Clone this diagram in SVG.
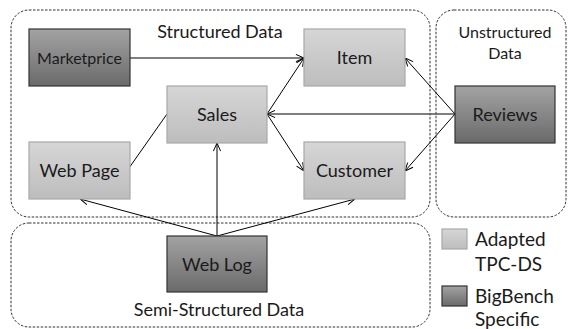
<svg xmlns="http://www.w3.org/2000/svg" width="571" height="329" viewBox="0 0 571 329">
<defs>
<linearGradient id="gl" x1="0" y1="0" x2="0" y2="1"><stop offset="0" stop-color="#d6d6d6"/><stop offset="1" stop-color="#bdbdbd"/></linearGradient>
<linearGradient id="gd" x1="0" y1="0" x2="0" y2="1"><stop offset="0" stop-color="#a3a3a3"/><stop offset="1" stop-color="#6a6a6a"/></linearGradient>
<marker id="ah" viewBox="0 0 10 10" refX="10" refY="5" markerWidth="9" markerHeight="9" orient="auto-start-reverse" markerUnits="userSpaceOnUse"><path d="M1,1 L10,5 L1,9" fill="none" stroke="#000" stroke-width="1.1"/></marker>
</defs>
<style>
.grp{fill:none;stroke:#333;stroke-width:1;stroke-dasharray:2.5 1.5}
.lt{fill:url(#gl);stroke:#a8a8a8;stroke-width:1.2}
.dk{fill:url(#gd);stroke:#333;stroke-width:1.2}
.t{font-family:Lato,"Liberation Sans",sans-serif;fill:#1a1a1a;text-anchor:middle}
.n{font-size:18px}
.c{stroke:#000;stroke-width:1;fill:none}
.lg{font-family:Lato,"Liberation Sans",sans-serif;fill:#1a1a1a;font-size:19px}
</style>
<rect width="571" height="329" fill="#fff"/>
<g id="containers">
<rect class="grp" x="11" y="10" width="419" height="207" rx="18"/>
<rect class="grp" x="436" y="10" width="130" height="207" rx="18"/>
<rect class="grp" x="11" y="223" width="419" height="104" rx="18"/>
<text class="t" x="220" y="38" font-size="18">Structured Data</text>
<text class="t" x="505" y="38" font-size="16">Unstructured</text>
<text class="t" x="505" y="59" font-size="16">Data</text>
<text class="t" x="219" y="316" font-size="18">Semi-Structured Data</text>
</g>
<g id="connectors">
<line class="c" x1="130" y1="58" x2="304" y2="58" marker-end="url(#ah)"/>
<line class="c" x1="267" y1="114" x2="304" y2="58" marker-end="url(#ah)"/>
<line class="c" x1="267" y1="114" x2="304" y2="171" marker-end="url(#ah)"/>
<line x1="455" y1="114" x2="267" y2="114" stroke="#555" stroke-width="1.6" marker-end="url(#ah)"/>
<line class="c" x1="455" y1="114" x2="405" y2="58" marker-end="url(#ah)"/>
<line class="c" x1="455" y1="114" x2="405" y2="171" marker-end="url(#ah)"/>
<line class="c" x1="129" y1="168" x2="167" y2="114"/>
<line class="c" x1="217" y1="236" x2="217" y2="143" marker-end="url(#ah)"/>
<line class="c" x1="217" y1="236" x2="80" y2="199" marker-end="url(#ah)"/>
<line class="c" x1="217" y1="236" x2="355" y2="199" marker-end="url(#ah)"/>
</g>
<g id="marketprice"><rect class="dk" x="29" y="29" width="101" height="57"/><text class="t" x="79.5" y="64" font-size="16">Marketprice</text></g>
<g id="item"><rect class="lt" x="304" y="29" width="101" height="57"/><text class="t n" x="354.5" y="64">Item</text></g>
<g id="sales"><rect class="lt" x="167" y="86" width="100" height="57"/><text class="t n" x="217" y="121">Sales</text></g>
<g id="reviews"><rect class="dk" x="455" y="86" width="100" height="57"/><text class="t n" x="505" y="121">Reviews</text></g>
<g id="webpage"><rect class="lt" x="29" y="142" width="101" height="57"/><text class="t n" x="79.5" y="177">Web Page</text></g>
<g id="customer"><rect class="lt" x="304" y="142" width="101" height="57"/><text class="t n" x="354.5" y="177">Customer</text></g>
<g id="weblog"><rect class="dk" x="167" y="236" width="100" height="56"/><text class="t n" x="217" y="271">Web Log</text></g>
<g id="legend">
<rect class="lt" x="442" y="229" width="25" height="20"/>
<text class="lg" x="475" y="246">Adapted</text>
<text class="lg" x="475" y="271">TPC-DS</text>
<rect class="dk" x="442" y="286" width="25" height="20"/>
<text class="lg" x="475" y="303">BigBench</text>
<text class="lg" x="475" y="326">Specific</text>
</g>
</svg>
